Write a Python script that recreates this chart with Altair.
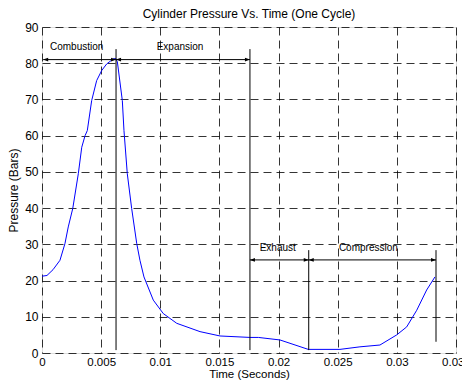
import altair as alt
import pandas as pd

# Pressure curve (one cycle)
time_s = [0.0, 0.00042, 0.00093, 0.00152, 0.00194, 0.00222, 0.0026, 0.00307, 0.00336,
          0.00364, 0.00383, 0.0042, 0.00462, 0.00505, 0.00547, 0.00603, 0.00623, 0.00637,
          0.00679, 0.00693, 0.00721, 0.00758, 0.00801, 0.00828, 0.00862, 0.00941, 0.01025,
          0.01139, 0.01336, 0.01505, 0.01758, 0.01829, 0.02012, 0.02251, 0.02519, 0.02688,
          0.02857, 0.02999, 0.03083, 0.03168, 0.03252, 0.03322]
pressure_bar = [21.2, 21.4, 23.0, 25.6, 30.2, 34.8, 39.9, 49.5, 56.8,
                60.0, 61.4, 69.7, 75.2, 78.0, 79.8, 81.2, 81.3, 80.4,
                69.7, 61.4, 49.5, 39.9, 30.2, 25.6, 21.0, 14.6, 10.9,
                8.2, 5.9, 4.7, 4.3, 4.3, 3.6, 1.0, 1.0, 1.7,
                2.2, 5.0, 7.2, 11.8, 17.4, 21.0]

# Phase boundary markers
marker_t = [0.00626, 0.01758, 0.02255, 0.03331]
marker_top = [83.9, 83.9, 28.4, 28.4]
marker_bottom = [0.8, 0.8, 0.8, 3.1]

# Phase arrows
phase_names = ["Combustion", "Expansion", "Exhaust", "Compression"]
phase_start = [0.0001, 0.00626, 0.01758, 0.02255]
phase_end = [0.00626, 0.01758, 0.02255, 0.03331]
phase_y = [81.0, 81.0, 25.7, 25.7]
label_t = [0.00293, 0.01167, 0.01993, 0.02759]
label_y = [84.4, 84.4, 28.9, 28.9]

x_ticks = [0, 0.005, 0.01, 0.015, 0.02, 0.025, 0.03, 0.035]
y_ticks = [0, 10, 20, 30, 40, 50, 60, 70, 80, 90]

curve = pd.DataFrame({"t": time_s, "p": pressure_bar})
markers = pd.DataFrame({"t": marker_t, "top": marker_top, "bottom": marker_bottom})
phases = pd.DataFrame({"name": phase_names, "start": phase_start, "end": phase_end,
                       "y": phase_y, "lt": label_t, "ly": label_y})

FONT = "Liberation Sans"

xscale = alt.Scale(domain=[0, 0.035], nice=False, zero=False)
yscale = alt.Scale(domain=[0, 90], nice=False)

common = dict(grid=True, gridDash=[8, 5], gridColor="black", gridOpacity=1, gridWidth=0.8,
              ticks=False, domain=False,
              labelFont=FONT, titleFont=FONT, titleFontWeight="normal",
              labelColor="black", titleColor="black", labelFlush=False,
              labelOverlap=False)

xaxis = alt.Axis(values=x_ticks, format="~g", title="Time (Seconds)", labelFontSize=11.5,
                 titleFontSize=11.5, labelPadding=3, titlePadding=1, **common)
yaxis = alt.Axis(values=y_ticks, format="d", title="Pressure (Bars)", labelFontSize=12,
                 titleFontSize=12, labelPadding=4, titlePadding=4, **common)


def X(field):
    return alt.X(field, type="quantitative", scale=xscale, axis=xaxis)


def Y(field):
    return alt.Y(field, type="quantitative", scale=yscale, axis=yaxis)


line = alt.Chart(curve).mark_line(color="#0000ff", strokeWidth=1).encode(
    x=X("t"), y=Y("p"), order="t:Q",
)

vlines = alt.Chart(markers).mark_rule(color="black", strokeWidth=1).encode(
    x=X("t"), y=Y("bottom"), y2="top:Q"
)

hlines = alt.Chart(phases).mark_rule(color="black", strokeWidth=1).encode(
    x=X("start"), x2="end:Q", y=Y("y")
)

right_head = "M0,0L-2,-0.75L-2,0.75Z"
left_head = "M0,0L2,-0.75L2,0.75Z"

heads_r = alt.Chart(phases).mark_point(shape=right_head, filled=True, color="black",
                                        size=25, opacity=1).encode(x=X("end"), y=Y("y"))
heads_l = alt.Chart(phases).mark_point(shape=left_head, filled=True, color="black",
                                        size=25, opacity=1).encode(x=X("start"), y=Y("y"))

labels = alt.Chart(phases).mark_text(font=FONT, fontSize=10, color="black",
                                     baseline="middle", align="center").encode(
    x=X("lt"), y=Y("ly"), text="name:N"
)

chart = alt.layer(line, vlines, hlines, heads_r, heads_l, labels).properties(
    width=414, height=326,
    title=alt.TitleParams("Cylinder Pressure Vs. Time (One Cycle)", font=FONT,
                          fontSize=12, fontWeight="normal", color="black", offset=0),
    autosize=alt.AutoSizeParams(type="none"),
    padding={"left": 34, "top": 19, "right": 6, "bottom": 27},
).configure_view(stroke="black", strokeWidth=1).configure(background="white")

chart.save("out.html", embed_options={"renderer": "svg", "actions": False})
